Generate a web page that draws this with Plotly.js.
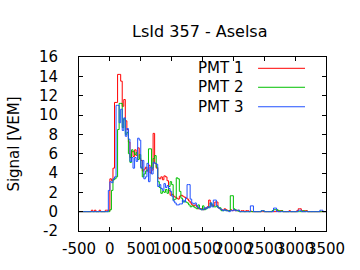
<!DOCTYPE html>
<html>
<head>
<meta charset="utf-8">
<script src="https://cdn.plot.ly/plotly-3.0.1.min.js"></script>
<style>html,body{margin:0;padding:0;background:#fff;}#chart{width:360px;height:270px;}</style>
</head>
<body>
<div id="chart"></div>
<script>
// Trace binning: first bin start (ns) and bin width (ns)
const T0 = -500;
const BIN = 25;

const seriesNames = ["PMT 1", "PMT 2", "PMT 3"];
const seriesColors = ["#ff0000", "#00c000", "#2050ff"];

const pmt1 = [
  0,0,0,0,0,0,0,0,0.15,0,0.15,0,0,0.15,0,0,0,0.15,0.15,0.1,
  3.4,3.2,4.5,11.3,11.3,14.2,14.2,13.5,10.9,11.6,9.4,8.5,7.2,5.6,6.2,5.7,6.4,5.8,6.6,5.5,
  5.3,4.2,4.4,4.6,4.2,4.8,4.0,4.3,8.1,5.0,4.5,3.5,3.4,3.6,3.3,3.7,3.6,3.2,2.2,1.7,
  1.8,1.6,1.5,1.4,1.3,1.6,1.7,1.6,1.5,1.4,1.3,1.1,0.9,0.7,0.6,0.7,0.5,0.3,0.3,0.3,
  0.2,0.3,0.4,0.5,1.2,0.8,0.6,0.6,1.0,1.0,0.4,0.3,0.2,0.15,0.3,0.2,0.1,0.1,0.2,0.1,
  0.2,0.1,0.1,0.15,0,0.1,0.1,0,0.1,0.1,0,0.05,0,0,0,0,0,0,0,0,
  0,0,0,0,0,0,0,0,0.1,0,0.1,0.1,0,0,0,0,0.1,0,0,0,
  0,0.1,0.3,0.3,0.1,0,0.1,0.1,0,0,0,0,0,0,0,0,0,0,0,0
];
const pmt2 = [
  0,0,0,0,0,0,0,0,0,0,0,0,0,0,0,0,0,0,0,0,
  0.2,2.2,3.3,3.4,3.6,8.5,11.2,11.2,8.7,9.6,8.0,8.2,6.0,5.1,6.4,6.2,5.9,6.1,5.4,5.9,
  4.6,3.6,3.9,4.2,4.3,6.5,6.5,4.5,5.5,5.8,4.6,3.1,2.5,1.9,2.1,2.0,2.3,1.9,2.6,3.1,
  2.8,1.2,1.3,3.5,3.4,2.1,1.4,1.0,1.1,1.0,0.9,0.7,0.5,0.6,0.5,0.4,0.3,0.7,0.3,0.2,
  0.6,0.2,0.3,0.4,0.5,0.9,0.7,0.5,0.5,0.6,0.4,0.4,0.1,0.1,0.2,0.1,0.1,0.1,1.65,1.65,
  0.3,0.2,0.1,0.05,0,0,0,0,0,0,0,0,0,0,0,0,0,0,0.1,0.1,
  0,0,0,0,0,0.1,0.2,0.2,0.2,0.1,0,0.1,0,0,0,0,0,0,0,0,
  0,0,0,0,0,0.1,0,0.05,0,0,0,0,0,0,0,0,0,0,0,0
];
const pmt3 = [
  0,0,0,0,0,0,0,0,0,0,0,0,0,0,0,0,0,0,0,2.2,
  3.1,3.0,3.4,3.6,11.0,11.0,9.2,10.6,8.4,9.7,7.8,8.6,7.5,5.2,5.6,4.5,5.6,5.2,7.6,7.4,
  4.5,5.3,3.4,3.6,5.0,3.1,4.6,3.9,5.1,5.0,4.9,2.6,2.8,2.4,2.2,2.9,2.5,2.7,2.4,2.1,
  1.6,1.1,0.9,0.7,0.7,0.8,0.8,1.2,1.0,1.4,2.8,2.8,1.3,0.9,0.8,0.9,0.6,0.4,0.3,0.2,
  0.2,0.4,0.3,0.5,0.4,0.9,0.5,1.2,1.2,0.6,0.4,0.3,0.2,0.1,0.2,0.1,0.1,0,0.1,0.1,
  0.2,0.1,0.15,0.15,0,0,0,0,0,0,0,0.6,0.6,0,0,0,0,0,0.1,0.1,
  0,0,0,0,0,0,0.37,0.37,0,0,0,0,0,0,0,0,0,0,0,0,
  0,0,0.15,0.15,0,0,0,0,0,0,0,0,0,0,0,0,0.15,0.15,0,0
];

const xTicks = [-500, 0, 500, 1000, 1500, 2000, 2500, 3000, 3500];
const yTicks = [-2, 0, 2, 4, 6, 8, 10, 12, 14, 16];

const FONT = "DejaVu Sans, sans-serif";
const allSeries = [pmt1, pmt2, pmt3];

const traces = allSeries.map((vals, k) => {
  const x = vals.map((_, i) => T0 + i * BIN);
  const y = vals.slice();
  x.push(T0 + vals.length * BIN);
  y.push(vals[vals.length - 1]);
  return {
    x: x, y: y, type: "scatter", mode: "lines",
    line: {shape: "hv", color: seriesColors[k], width: 1},
    name: seriesNames[k], showlegend: false, hoverinfo: "skip"
  };
});

// gnuplot-style key: text right-aligned, sample line to the right
const keyRowsY = [0.935, 0.826, 0.714];
const annotations = seriesNames.map((n, k) => ({
  xref: "paper", yref: "paper", x: 0.672, y: keyRowsY[k],
  xanchor: "right", yanchor: "middle", text: n, showarrow: false,
  font: {family: FONT, size: 15, color: "#000"}
}));
const shapes = seriesColors.map((c, k) => ({
  type: "line", xref: "paper", yref: "paper",
  x0: 0.725, x1: 0.915, y0: keyRowsY[k], y1: keyRowsY[k],
  line: {color: c, width: 1}
}));

const axisCommon = {
  showgrid: false, zeroline: false, showline: true, linecolor: "#000", linewidth: 1,
  mirror: "allticks", ticks: "inside", ticklen: 4, tickcolor: "#000", tickwidth: 1,
  tickfont: {family: FONT, size: 15, color: "#000"}
};

const layout = {
  width: 360, height: 270,
  margin: {l: 79, r: 34, t: 57, b: 39},
  paper_bgcolor: "#fff", plot_bgcolor: "#fff",
  title: {text: "LsId 357 - Aselsa", font: {family: FONT, size: 16, color: "#000"},
          x: 0.555, xanchor: "center", y: 0.885, yanchor: "middle"},
  xaxis: Object.assign({}, axisCommon, {range: [-500, 3500], tickvals: xTicks,
          ticktext: xTicks.map(String), tickangle: 0, ticklabelstandoff: 4}),
  yaxis: Object.assign({}, axisCommon, {range: [-2, 16], tickvals: yTicks,
          ticktext: yTicks.map(v => String(v) + "\u2004"), ticklabelstandoff: 12,
          title: {text: "Signal [VEM]", font: {family: FONT, size: 15, color: "#000"}, standoff: 15}}),
  annotations: annotations,
  shapes: shapes,
  showlegend: false
};

Plotly.newPlot("chart", traces, layout, {staticPlot: true, displayModeBar: false});
</script>
</body>
</html>
